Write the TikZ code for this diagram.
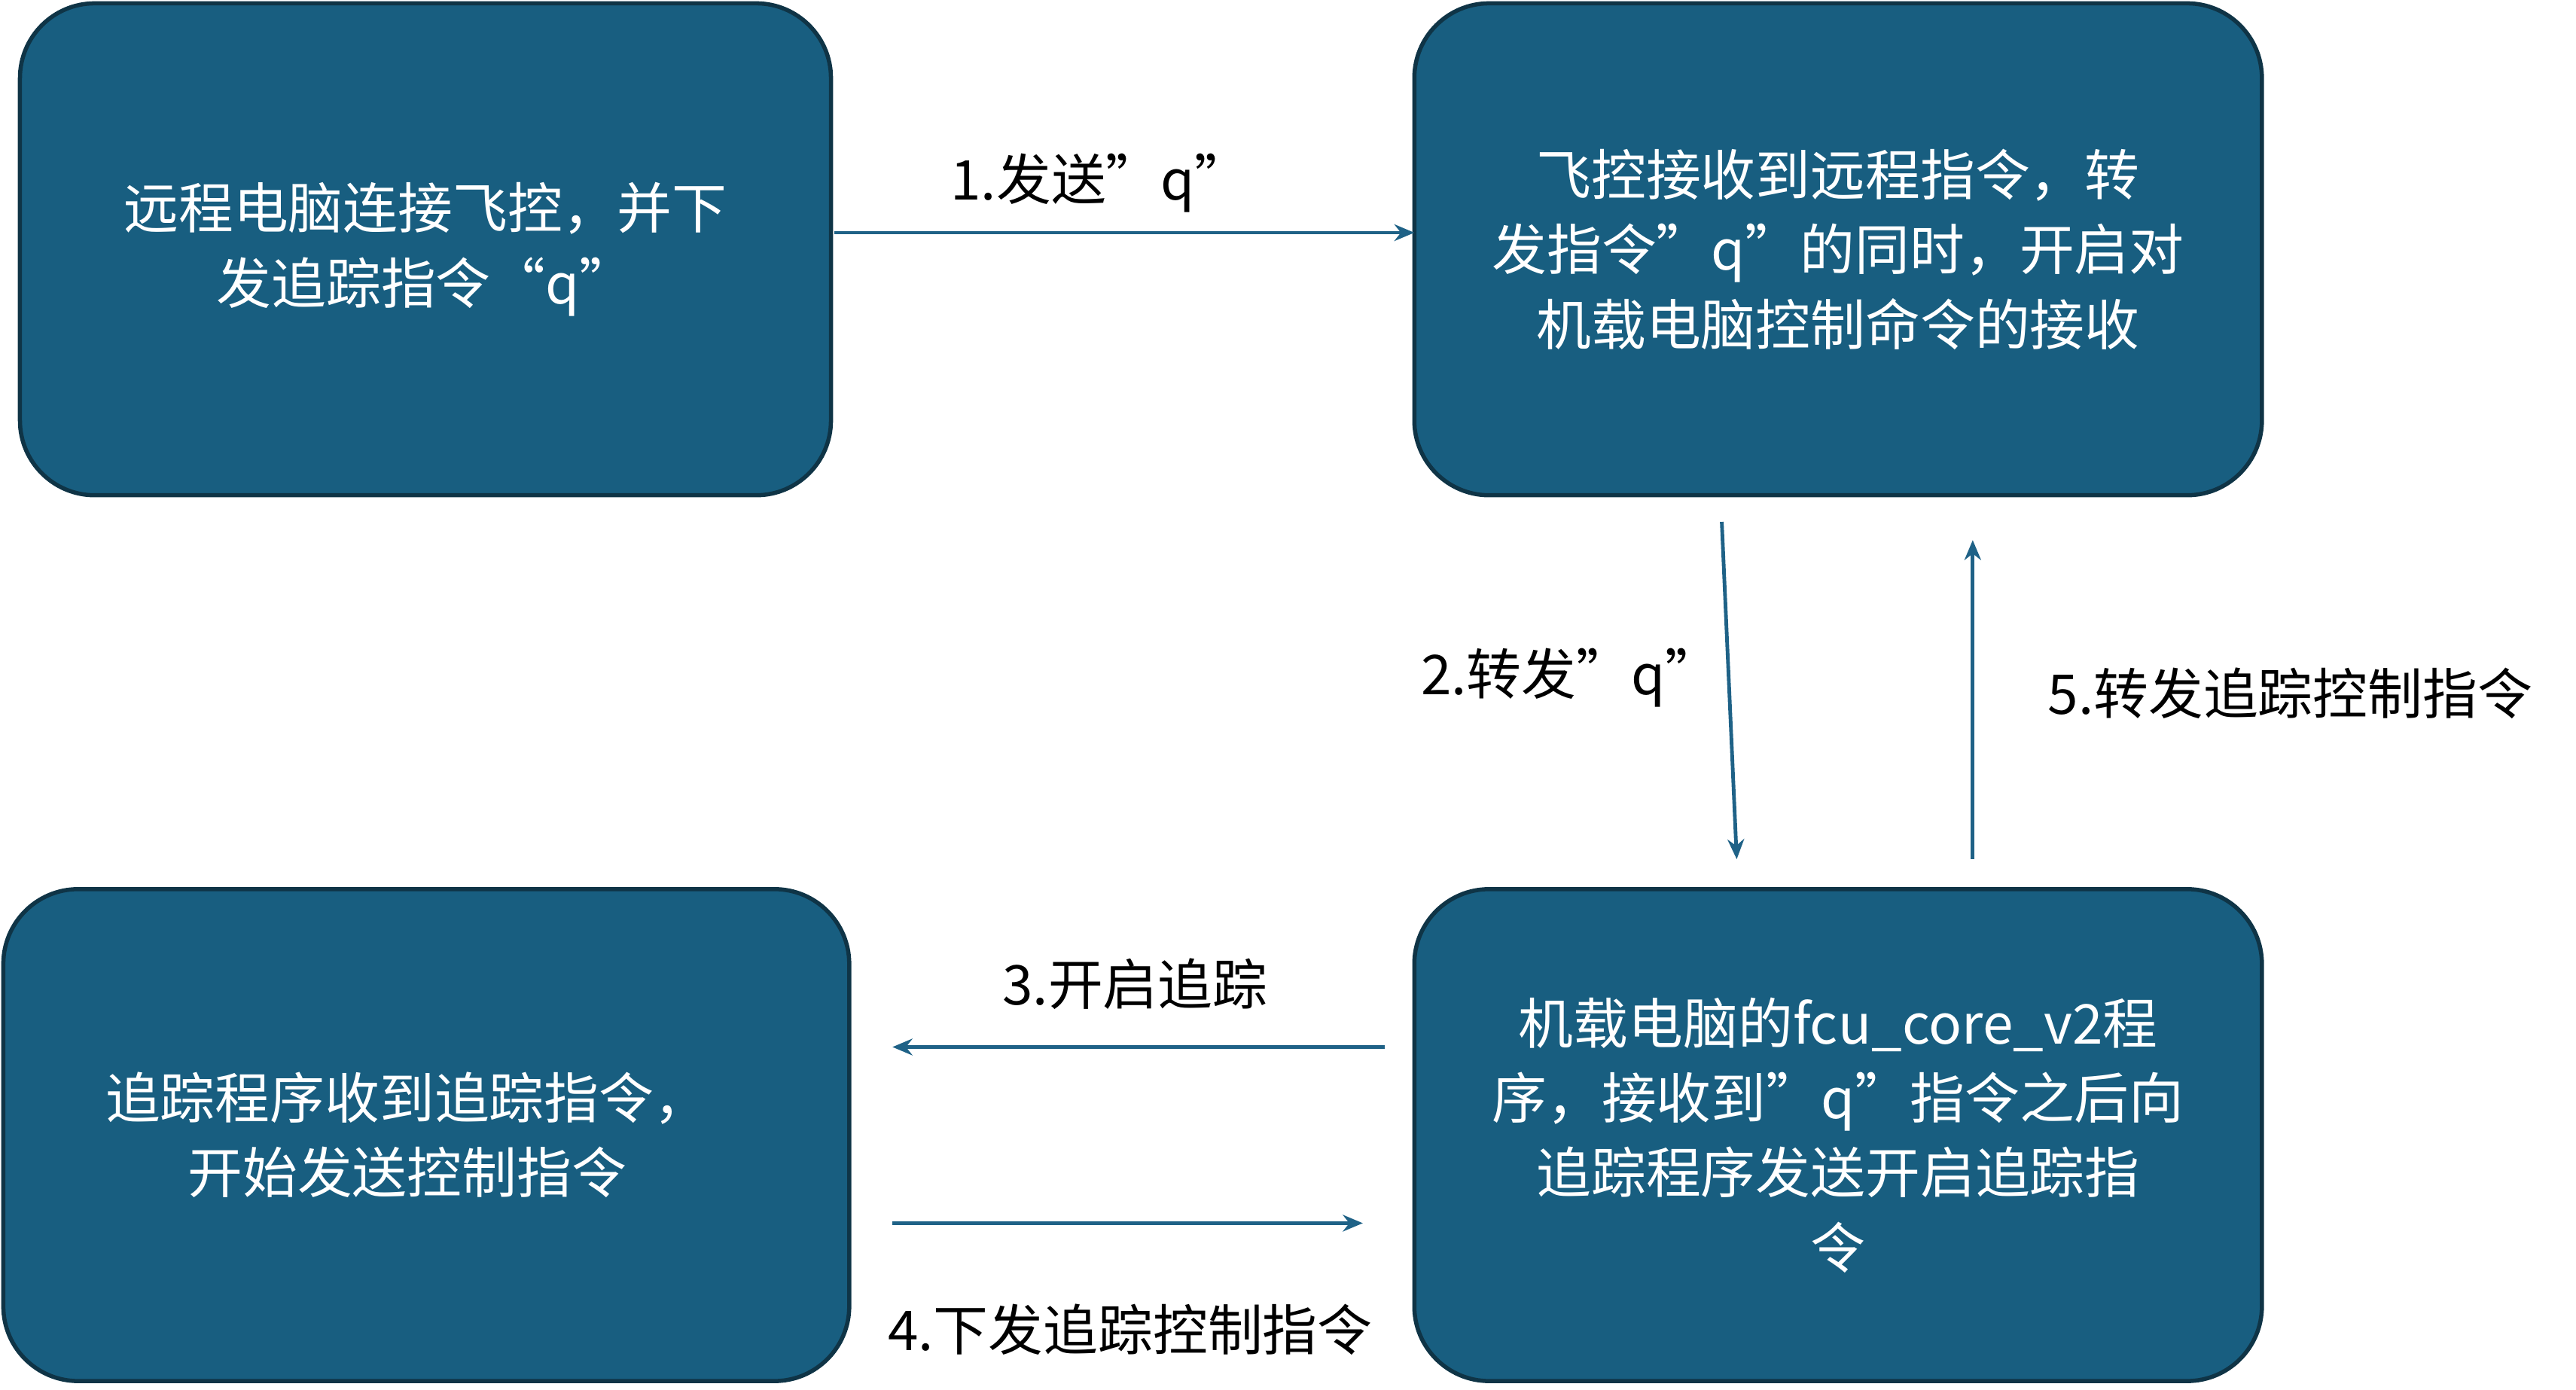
\documentclass[tikz,border=0pt]{standalone}
\usepackage{fontspec}
\setmainfont{Noto Sans CJK SC}
\usetikzlibrary{arrows.meta}
\definecolor{boxfill}{HTML}{185E80}
\definecolor{boxline}{HTML}{0F3446}
\definecolor{arr}{HTML}{1F6287}
\begin{document}
\begin{tikzpicture}[x=1pt,y=-1pt,
  box/.style={draw=boxline,line width=2.5pt,fill=boxfill,rounded corners=45pt},
  bt/.style={text=white,align=center,font=\fontsize{33}{45}\selectfont},
  lab/.style={text=black,font=\fontsize{33}{40}\selectfont},
  ar/.style={draw=arr,line width=2.2pt,-{Stealth[length=12pt,width=10pt]}}]
\useasboundingbox (0,0) rectangle (1550,836);
\draw[box] (12,2) rectangle (500,298);
\draw[box] (851,2) rectangle (1361,298);
\draw[box] (2,535) rectangle (511,831);
\draw[box] (851,535) rectangle (1361,831);
\node[bt] (a) at (256,150) {远程电脑连接飞控，并下\\发追踪指令“q”};
\node[bt] (b) at (1106,150) {飞控接收到远程指令，转\\发指令”q”的同时，开启对\\机载电脑控制命令的接收};
\node[bt] (c) at (245,683) {追踪程序收到追踪指令，\\开始发送控制指令};
\node[bt] (d) at (1106,683) {机载电脑的fcu\_core\_v2程\\序，接收到”q”指令之后向\\追踪程序发送开启追踪指\\令};
\coordinate (p1) at (502,140); \coordinate (q1) at (851,140);
\coordinate (p2) at (1036,314); \coordinate (q2) at (1045,517);
\coordinate (p5) at (1187,517); \coordinate (q5) at (1187,325);
\coordinate (p3) at (833,630); \coordinate (q3) at (537,630);
\coordinate (p4) at (537,736); \coordinate (q4) at (820,736);
\draw[ar] (p1) -- (q1);
\draw[ar] (p2) -- (q2);
\draw[ar] (p5) -- (q5);
\draw[ar] (p3) -- (q3);
\draw[ar] (p4) -- (q4);
\node[lab] (l1) at (662,110) {1.发送”q”};
\node[lab] (l2) at (945,408) {2.转发”q”};
\node[lab] (l5) at (1378,417) {5.转发追踪控制指令};
\node[lab] (l3) at (683,592) {3.开启追踪};
\node[lab] (l4) at (680,800) {4.下发追踪控制指令};
\end{tikzpicture}
\end{document}
